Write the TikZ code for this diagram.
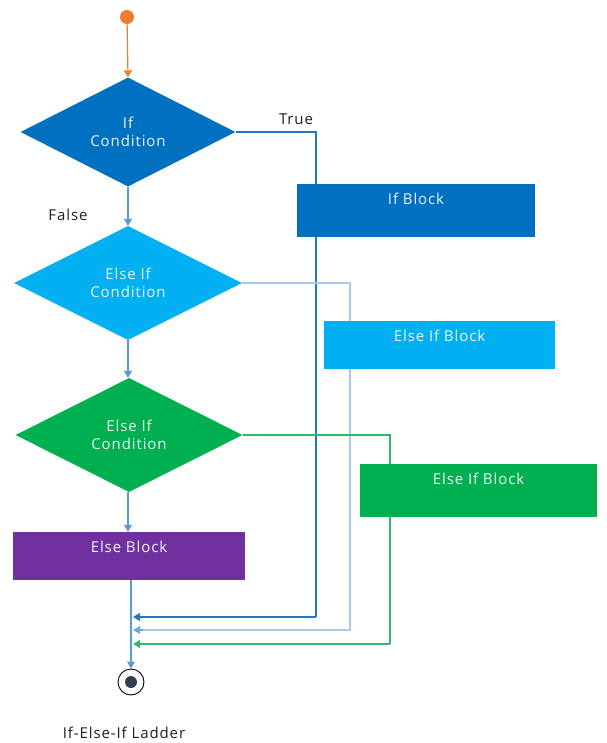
\documentclass[tikz,border=0pt]{standalone}
\usepackage{fontspec}
\setmainfont{Open Sans}[LetterSpace=6]
\usetikzlibrary{shapes.geometric,arrows.meta,backgrounds}

\definecolor{ifblue}{HTML}{0070C0}
\definecolor{elifcyan}{HTML}{00B0F0}
\definecolor{elifgreen}{HTML}{00B050}
\definecolor{elsepurple}{HTML}{7030A0}
\definecolor{startorange}{HTML}{ED7D31}
\definecolor{flowblue}{HTML}{5B9BD5}
\definecolor{trueblue}{HTML}{1F78C8}
\definecolor{paleblue}{HTML}{A8CBEB}
\definecolor{palearrow}{HTML}{6FA8DC}
\definecolor{truegreen}{HTML}{33B86A}
\definecolor{enddot}{HTML}{333F50}
\definecolor{labeltext}{HTML}{1E1E1E}
\definecolor{boxtext}{HTML}{EEF3F8}

\tikzset{
  tip/.style={-{Triangle[width=8pt,length=7pt]}},
  txt/.style={font=\fontsize{15}{19}\selectfont},
  cond/.style={diamond, aspect=2, inner sep=0pt, fill=#1, draw=none,
    txt, text=boxtext, align=center},
  blockbox/.style={rectangle, inner sep=0pt, fill=#1, draw=none},
  blocktext/.style={txt, text=boxtext, anchor=center, yshift=-15pt},
  flow/.style={flowblue, line width=1.2pt, tip},
  plain/.style={txt, text=labeltext},
}

\begin{document}
\begin{tikzpicture}[x=1pt,y=-1pt]
\useasboundingbox (0,0) rectangle (606,743);

% start and decision chain
\node[circle, fill=startorange, minimum size=14pt, inner sep=0pt] (start) at (127,17) {};
\node[cond=ifblue, minimum width=215pt, minimum height=109pt] (c1) at (128,132) {If\\[-1pt]Condition};
\node[cond=elifcyan, minimum width=228pt, minimum height=114pt] (c2) at (128,283) {Else If\\[-1pt]Condition};
\node[cond=elifgreen, minimum width=227pt, minimum height=114pt] (c3) at (129,435) {Else If\\[-1pt]Condition};

% blocks
\node[blockbox=ifblue, minimum width=238pt, minimum height=53pt,
  label={[blocktext]north:If Block}] (b1) at (416,210.5) {};
\node[blockbox=elifcyan, minimum width=231pt, minimum height=48pt,
  label={[blocktext]north:Else If Block}] (b2) at (439.5,345) {};
\node[blockbox=elifgreen, minimum width=237pt, minimum height=53pt,
  label={[blocktext]north:Else If Block}] (b3) at (478.5,490.5) {};
\node[blockbox=elsepurple, minimum width=232pt, minimum height=48pt,
  label={[blocktext]north:Else Block}] (b4) at (129,556) {};

% end state
\node[circle, draw=black, line width=0.9pt, minimum size=26pt, inner sep=0pt] (end) at (131,682) {};
\node[circle, fill=enddot, minimum size=12pt, inner sep=0pt] (enddotn) at (end.center) {};

% labels
\node[plain] (tlabel) at (296,119) {True};
\node[plain] (flabel) at (68,215) {False};
\node[plain] (caption) at (124,733) {If-Else-If Ladder};

% routing points
\coordinate (outx) at (131,0);
\coordinate (r1) at (316,617);
\coordinate (r2) at (350,630);
\coordinate (r3) at (390,644);

\begin{pgfonlayer}{background}
  \draw[startorange, line width=1.2pt, tip] (start) -- (c1.north);
  \draw[flow] (c1.south) -- (c2.north);
  \draw[flow] (c2.south) -- (c2.south |- c3.north);
  \draw[flow] (c2.south |- c3.south) -- (c2.south |- b4.north);
  \draw[flow] ([yshift=3pt]b4.south -| outx) -- (end.north);

  \draw[trueblue, line width=1.2pt] (c1.east) -| (r1);
  \draw[trueblue, line width=1.2pt, tip] (r1) -- ([xshift=2pt]r1 -| outx);

  \draw[paleblue, line width=2.4pt] (c2.east) -| (r2) -- ([xshift=12pt]r2 -| outx);
  \draw[palearrow, line width=1.2pt, tip] ([xshift=12pt]r2 -| outx) -- ([xshift=2pt]r2 -| outx);

  \draw[truegreen, line width=1.2pt] (c3.east) -| (r3);
  \draw[truegreen, line width=1.2pt, tip] (r3) -- ([xshift=2pt]r3 -| outx);
\end{pgfonlayer}
\end{tikzpicture}
\end{document}
